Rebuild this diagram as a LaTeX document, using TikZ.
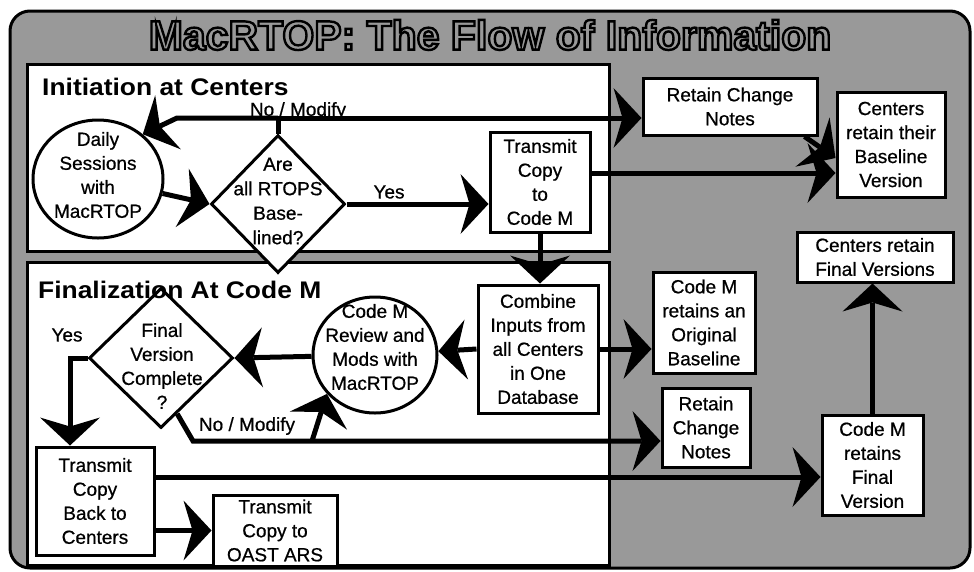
\documentclass[tikz,border=0pt]{standalone}
\usepackage{fontspec}
\setmainfont{Liberation Sans}
\newfontfamily\nodeface{Liberation Sans}[FakeBold=0.7]
\usetikzlibrary{arrows.meta,shapes.geometric,calc}
\definecolor{bg}{gray}{0.6}
\newcommand\fsnode{\nodeface\fontsize{19}{24}\selectfont}
\newcommand\fshead{\fontsize{24}{28}\selectfont\bfseries}
\newcommand\fstitle{\fontsize{41}{44}\selectfont\bfseries}
\begin{document}
\begin{tikzpicture}[x=1pt,y=-1pt,
  panel/.style={draw=black, line width=3pt, fill=white, inner sep=0pt},
  box/.style={draw=black, line width=3pt, fill=white, align=center, inner sep=0pt, font=\fsnode},
  roundbox/.style={ellipse, draw=black, line width=3pt, fill=white, inner sep=0pt},
  decision/.style={diamond, draw=black, line width=3pt, fill=white, inner sep=0pt},
  txt/.style={align=center, inner sep=0pt, font=\fsnode},
  lbl/.style={inner sep=0pt, font=\fsnode},
  head/.style={anchor=base west, inner sep=0pt, font=\fshead},
  line/.style={line width=5pt},
  conn/.style={line width=5pt, -{Stealth[length=28pt,width=60pt,inset=9pt,line width=0pt]}}]
\useasboundingbox (0,0) rectangle (974,571);
% frame
\draw[line width=3pt, fill=bg, rounded corners=20pt] (10,11) rectangle (970,568);
\node[inner sep=0pt, font=\fstitle] (title) at (490,35)
  {\color{bg}\special{pdf:literal direct 0 G 2.4 w 2 Tr}MacRTOP:\ The Flow of Information\special{pdf:literal direct 0 Tr}};
% panels
\node[panel, minimum width=582pt, minimum height=187pt] (initbox) at (318,157.5) {};
\node[panel, minimum width=582pt, minimum height=303pt] (finbox) at (318,413.5) {};
\node[head] (inihead) at (42,95) {\scalebox{1.1}[1]{Initiation at Centers}};
% initiation nodes
\node[roundbox, minimum width=130pt, minimum height=118pt] (daily) at (98,179) {};
\node[txt] (dailylbl) at (98,175) {Daily\\Sessions\\with\\MacRTOP};
\node[decision, minimum width=134pt, minimum height=138pt] (are) at (278,204) {};
\node[txt, font=\nodeface\fontsize{19}{24.5}\selectfont] (arelbl) at (278,201) {Are\\all RTOPS\\Base-\\lined?};
\node[box, minimum width=100pt, minimum height=100pt] (xmit) at (540,182) {Transmit\\Copy\\to\\Code M};
% right side
\node[box, minimum width=174pt, minimum height=57pt] (retain1) at (730,106.5) {Retain Change\\Notes};
\node[box, minimum width=108pt, minimum height=105pt] (ctrbase) at (891,144.5) {Centers\\retain their\\Baseline\\Version};
\node[box, minimum width=156pt, minimum height=50pt] (ctrfinal) at (875,257) {Centers retain\\Final Versions};
\node[box, minimum width=102pt, minimum height=101pt] (cmorig) at (704,322.5) {Code M\\retains an\\Original\\Baseline};
\node[box, minimum width=88pt, minimum height=79pt] (retain2) at (706,427.5) {Retain\\Change\\Notes};
\node[box, minimum width=101pt, minimum height=100pt] (cmfinal) at (872.5,465) {Code M\\retains\\Final\\Version};
% finalization nodes
\node[box, minimum width=120pt, minimum height=128pt] (combine) at (538,349) {Combine\\Inputs from\\all Centers\\in One\\Database};
\node[roundbox, minimum width=124pt, minimum height=116pt] (review) at (375,355) {};
\node[txt] (reviewlbl) at (375,347) {Code M\\Review and\\Mods with\\MacRTOP};
\node[decision, minimum width=144pt, minimum height=140pt] (final) at (161,358) {};
\node[txt] (finallbl) at (162,366) {Final\\Version\\Complete\\?};
\node[head] (finhead) at (38,298) {\scalebox{1.1}[1]{Finalization At Code M}};
\node[box, minimum width=118pt, minimum height=108pt] (xmitback) at (95,501) {Transmit\\Copy\\Back to\\Centers};
\node[box, minimum width=124pt, minimum height=71pt] (oast) at (275,530.5) {Transmit\\Copy to\\OAST ARS};
% connectors
\coordinate (nm) at (278,118);
\coordinate (nmL) at (177,118);
\draw[line] (are.north) -- (nm);
\draw[conn] (nm) -- (nmL) -- (daily.45);
\draw[conn] (nm) -- (nm -| retain1.west);
\draw[conn] (daily) -- (are.west);
\draw[conn] (are.east) -- (are.east -| xmit.west);
\coordinate (y173) at (0,173);
\coordinate (y158) at (0,158);
\draw[conn] (xmit.east |- y173) -- (ctrbase.west |- y173);
\draw[conn] ([xshift=-14pt]retain1.south east) -- (ctrbase.west |- y158);
\draw[conn] (xmit.south) -- (xmit.south |- combine.north);
\draw[conn] (combine.west) -- (review);
\draw[conn] (combine.east) -- (combine.east -| cmorig.west);
\draw[conn] (review) -- (final.east);
\coordinate (yc) at (70,358);
\draw[conn] (final.west) -- (yc) -- (yc |- xmitback.north);
\coordinate (nb0) at ($(final.south)!0.22!(final.east)$);
\coordinate (nb1) at (193,441);
\coordinate (nb2) at (312,441);
\draw[conn] (nb0) -- (nb1) -- (nb1 -| retain2.west);
\draw[conn] (nb2) -- (review.219);
\coordinate (y477) at (0,477);
\draw[conn] (xmitback.east |- y477) -- (cmfinal.west |- y477);
\draw[conn] (xmitback.east |- oast.west) -- (oast.west);
\draw[conn] (cmfinal.north) -- (cmfinal.north |- ctrfinal.south);
% labels
\node[lbl] (nomod1) at (298,111) {No / Modify};
\node[lbl] (yes1) at (389,192) {Yes};
\node[lbl] (yes2) at (67,335) {Yes};
\node[lbl] (nomod2) at (247,426) {No / Modify};
\end{tikzpicture}
\end{document}
